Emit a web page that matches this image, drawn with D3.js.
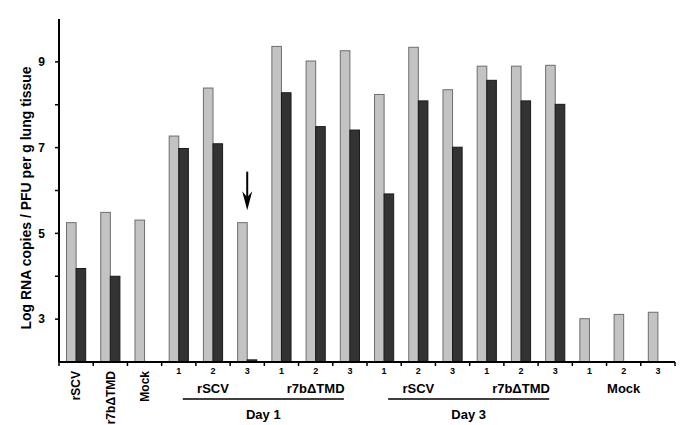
<!DOCTYPE html>
<html>
<head>
<meta charset="utf-8">
<script src="https://cdn.jsdelivr.net/npm/d3@7"></script>
<style>
  body { margin: 0; background: #fff; }
  svg text { font-family: "Liberation Sans", Arial, sans-serif; font-weight: bold; fill: #000; }
</style>
</head>
<body>
<svg id="chart" width="685" height="425"></svg>
<script>
// ---- data ----
const categories = ["rSCV", "r7bΔTMD", "Mock",
  "d1-rSCV-1", "d1-rSCV-2", "d1-rSCV-3",
  "d1-r7b-1", "d1-r7b-2", "d1-r7b-3",
  "d3-rSCV-1", "d3-rSCV-2", "d3-rSCV-3",
  "d3-r7b-1", "d3-r7b-2", "d3-r7b-3",
  "mock-1", "mock-2", "mock-3"];
const categoryLabels = ["rSCV", "r7bΔTMD", "Mock",
  "1", "2", "3", "1", "2", "3", "1", "2", "3", "1", "2", "3", "1", "2", "3"];
const rotatedLabelCount = 3;
const lightValues = [5.25, 5.49, 5.31, 7.27, 8.39, 5.25, 9.36, 9.02, 9.26, 8.24, 9.34, 8.35, 8.90, 8.90, 8.92, 3.01, 3.11, 3.16];
const darkValues  = [4.18, 4.00, null, 6.98, 7.09, 2.05, 8.28, 7.49, 7.41, 5.92, 8.09, 7.01, 8.57, 8.09, 8.01, null, null, null];
const yMajorTicks = [3, 5, 7, 9];
const yMinorTicks = [3, 4, 5, 6, 7, 8, 9];
const yDomain = [2, 10];
const groupLabels = [
  { label: "rSCV", from: 3, to: 5 },
  { label: "r7bΔTMD", from: 6, to: 8 },
  { label: "rSCV", from: 9, to: 11 },
  { label: "r7bΔTMD", from: 12, to: 14 },
  { label: "Mock", from: 15, to: 17 }
];
const dayLabels = [
  { label: "Day 1", from: 3, to: 8 },
  { label: "Day 3", from: 9, to: 14 }
];
const arrowCategory = 5;
const arrowFrom = 6.44;
const arrowTo = 5.54;

// ---- layout ----
const svg = d3.select("#chart");
const mLeft = 59, mRight = 675, mTop = 19, mBottom = 362;

const x = d3.scaleBand().domain(categories).range([mLeft, mRight])
  .paddingInner(0.44).paddingOuter(0.22);
const step = x.step();
const gap = step - x.bandwidth();
const sub = d3.scaleBand().domain(["light", "dark"]).range([0, x.bandwidth()]);
const y = d3.scaleLinear().domain(yDomain).range([mBottom, mTop]);

// bars
const g = svg.append("g");
g.selectAll("rect.light").data(lightValues).join("rect")
  .attr("class", "light")
  .attr("x", (d, i) => x(categories[i]) + sub("light"))
  .attr("width", sub.bandwidth())
  .attr("y", d => y(d))
  .attr("height", d => y(yDomain[0]) - y(d))
  .attr("fill", "#c3c3c3").attr("stroke", "#6e6e6e").attr("stroke-width", 1);
g.selectAll("rect.dark").data(darkValues.map((v, i) => ({ v, i })).filter(d => d.v != null)).join("rect")
  .attr("class", "dark")
  .attr("x", d => x(categories[d.i]) + sub("dark"))
  .attr("width", sub.bandwidth())
  .attr("y", d => y(d.v))
  .attr("height", d => y(yDomain[0]) - y(d.v))
  .attr("fill", "#333333").attr("stroke", "#1a1a1a").attr("stroke-width", 1);

// y axis
svg.append("line").attr("x1", mLeft).attr("x2", mLeft).attr("y1", y(yDomain[1])).attr("y2", y(yDomain[0]))
  .attr("stroke", "#000").attr("stroke-width", 2);
svg.selectAll("line.ymin").data(yMinorTicks).join("line")
  .attr("x1", mLeft - 4).attr("x2", mLeft).attr("y1", d => y(d)).attr("y2", d => y(d))
  .attr("stroke", "#000").attr("stroke-width", 1.5);
svg.selectAll("text.ytick").data(yMajorTicks).join("text")
  .attr("x", mLeft - 14).attr("y", d => y(d)).attr("dy", "0.35em")
  .attr("text-anchor", "end").attr("font-size", 12).text(d => d);

// x axis
svg.append("line").attr("x1", mLeft).attr("x2", mRight).attr("y1", mBottom).attr("y2", mBottom)
  .attr("stroke", "#000").attr("stroke-width", 2);
const boundaries = categories.map(c => x(c) - gap / 2).concat([mRight]);
svg.selectAll("line.xtick").data(boundaries).join("line")
  .attr("x1", d => d).attr("x2", d => d).attr("y1", mBottom).attr("y2", mBottom + 4)
  .attr("stroke", "#000").attr("stroke-width", 1.5);

// category labels
categories.forEach((c, i) => {
  const cx = x(c) + x.bandwidth() / 2;
  if (i < rotatedLabelCount) {
    svg.append("text").attr("transform", `translate(${cx},${mBottom + 9}) rotate(-90)`)
      .attr("text-anchor", "end").attr("dy", "0.35em").attr("font-size", 12)
      .text(categoryLabels[i]);
  } else {
    svg.append("text").attr("x", cx).attr("y", mBottom + 12)
      .attr("text-anchor", "middle").attr("font-size", 9).text(categoryLabels[i]);
  }
});

// group labels
groupLabels.forEach(gl => {
  const cx = (x(categories[gl.from]) + x(categories[gl.to]) + x.bandwidth()) / 2;
  svg.append("text").attr("x", cx).attr("y", mBottom + 31)
    .attr("text-anchor", "middle").attr("font-size", 13).text(gl.label);
});
dayLabels.forEach(dl => {
  const x0 = x(categories[dl.from]) + x.bandwidth() / 2 + 4;
  const x1 = x(categories[dl.to]) + x.bandwidth() / 2 - 6;
  svg.append("line").attr("x1", x0).attr("x2", x1).attr("y1", mBottom + 37).attr("y2", mBottom + 37)
    .attr("stroke", "#000").attr("stroke-width", 1.5);
  svg.append("text").attr("x", (x0 + x1) / 2).attr("y", mBottom + 57)
    .attr("text-anchor", "middle").attr("font-size", 13).text(dl.label);
});

// arrow
const ax = x(categories[arrowCategory]) + x.bandwidth() / 2;
svg.append("line").attr("x1", ax).attr("x2", ax).attr("y1", y(arrowFrom)).attr("y2", y(arrowTo) - 6)
  .attr("stroke", "#000").attr("stroke-width", 2);
svg.append("path")
  .attr("d", `M${ax - 5},${y(arrowTo) - 19} L${ax},${y(arrowTo) - 13} L${ax + 5},${y(arrowTo) - 19} L${ax},${y(arrowTo)} Z`)
  .attr("fill", "#000");

// y title
svg.append("text").attr("transform", `translate(26,198) rotate(-90)`)
  .attr("text-anchor", "middle").attr("dy", "0.35em").attr("font-size", 14)
  .text("Log RNA copies / PFU per g lung tissue");
</script>
</body>
</html>
